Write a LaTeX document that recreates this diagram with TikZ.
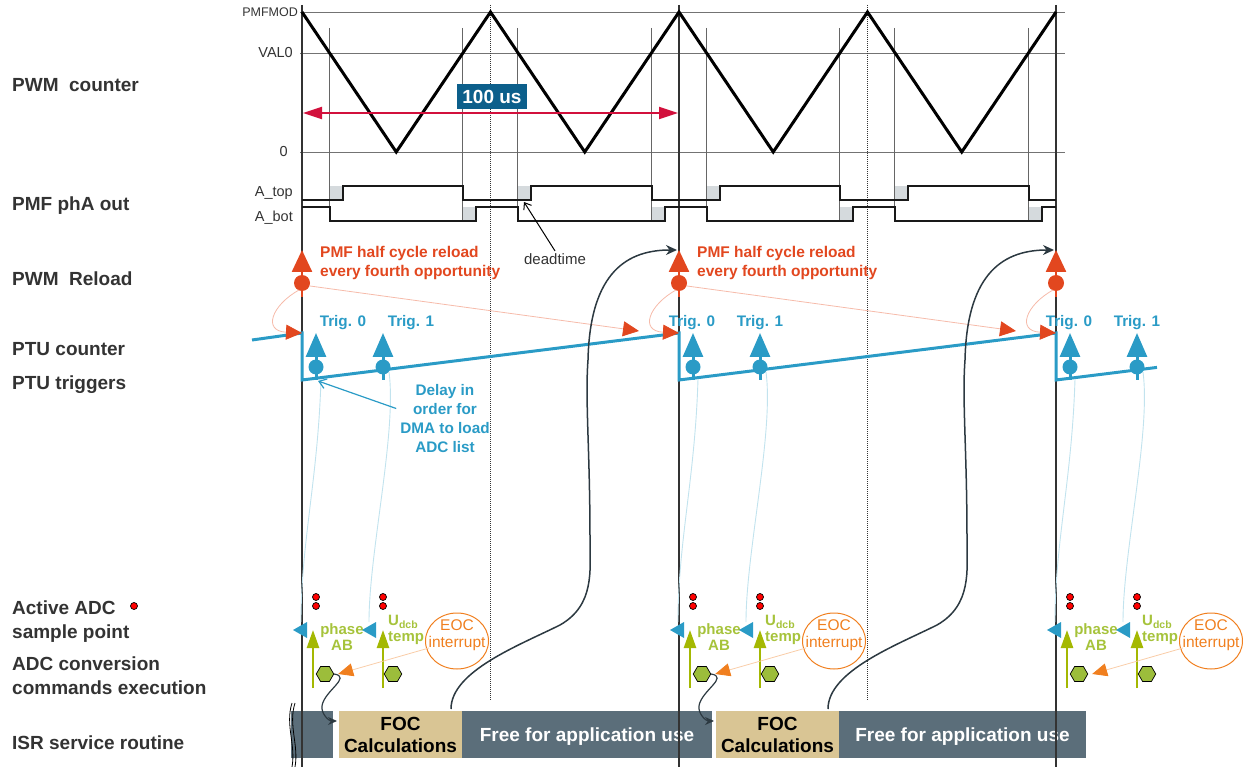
\documentclass[tikz,border=0pt]{standalone}
\usepackage{fontspec}
\setmainfont{Liberation Sans}
\usetikzlibrary{arrows.meta, shapes.geometric}

\definecolor{txtgray}{HTML}{333333}
\definecolor{relred}{HTML}{E2471F}
\definecolor{ptublue}{HTML}{2A9BC6}
\definecolor{usred}{HTML}{D2103C}
\definecolor{usblue}{HTML}{0C5F8B}
\definecolor{isrslate}{HTML}{5B6E7A}
\definecolor{foctan}{HTML}{D9C594}
\definecolor{adcgreen}{HTML}{A4B802}
\definecolor{phasegreen}{HTML}{A6C33B}
\definecolor{hexgreen}{HTML}{9CBD3B}
\definecolor{eocorange}{HTML}{F07F1F}
\definecolor{tracelight}{HTML}{C2E3EE}
\definecolor{loopink}{HTML}{F6BBAA}
\definecolor{eoclight}{HTML}{F9CDA8}
\definecolor{curvedark}{HTML}{2C3941}
\definecolor{dtgray}{HTML}{D5DADD}

\tikzset{
  rowlabel/.style={anchor=base west, inner sep=0pt, text=txtgray,
    font=\fontsize{19}{22}\selectfont\bfseries},
  levellabel/.style={anchor=base east, inner sep=0pt, text=txtgray,
    font=\fontsize{14.5}{17}\selectfont},
  gridline/.style={black!55, line width=0.8pt},
  dtline/.style={black!60, line width=0.7pt},
  dtbox/.style={fill=dtgray},
  counter/.style={black, line width=3pt},
  sigline/.style={black!90, line width=2pt},
  period/.style={black!80, line width=2pt},
  halfperiod/.style={black!80, line width=1pt, densely dotted},
  usarrow/.style={usred, line width=2pt,
    {Triangle[length=19pt,width=12pt]}-{Triangle[length=19pt,width=12pt]}},
  usbox/.style={fill=usblue, text=white, inner sep=0pt, minimum width=70pt,
    minimum height=25pt, font=\fontsize{19}{22}\selectfont\bfseries},
  deadlabel/.style={anchor=base, inner sep=3pt, text=txtgray,
    font=\fontsize{15}{18}\selectfont},
  deadarrow/.style={black, line width=1pt, -{Straight Barb[length=6pt,width=9pt]}},
  reloadmark/.style={relred, line width=2.5pt, -{Triangle[length=22pt,width=20pt]}},
  reloadnote/.style={anchor=west, align=left, inner sep=0pt, text=relred,
    font=\fontsize{15.5}{19}\selectfont\bfseries},
  reloadlink/.style={loopink, line width=0.8pt,
    -{Triangle[length=16pt,width=15pt,color=relred]}},
  ptuline/.style={ptublue, line width=3pt},
  trigmark/.style={ptublue, line width=3pt, -{Triangle[length=24pt,width=20pt]}},
  triglabel/.style={anchor=base, inner sep=0pt, text=ptublue,
    font=\fontsize{15.3}{18}\selectfont\bfseries},
  delaynote/.style={align=center, inner sep=0pt, text=ptublue,
    font=\fontsize{15.3}{18.7}\selectfont\bfseries},
  delayarrow/.style={ptublue, line width=1.2pt, -{Straight Barb[length=7pt,width=10pt]}},
  trace/.style={tracelight, line width=0.9pt},
  sampledot/.style={fill=red, draw=black, line width=0.7pt},
  convarrow/.style={adcgreen, line width=2.5pt, -{Triangle[length=18pt,width=12pt]}},
  adclabel/.style={align=center, inner sep=0pt, text=phasegreen,
    font=\fontsize{15}{16}\selectfont\bfseries},
  cmdhex/.style={regular polygon, regular polygon sides=6, minimum size=17.5pt,
    inner sep=0pt, fill=hexgreen, draw=black, line width=0.7pt},
  eoctext/.style={align=center, inner sep=0pt, text=eocorange,
    font=\fontsize{15.5}{17}\selectfont},
  eocring/.style={eocorange, line width=1pt},
  eoclink/.style={eoclight, line width=0.8pt,
    -{Triangle[length=15pt,width=13pt,color=eocorange]}},
  isrhop/.style={curvedark, line width=1.2pt, -{Stealth[length=9pt,width=8pt]}},
  isrcurve/.style={curvedark, line width=1.5pt, -{Stealth[length=11pt,width=10pt]}},
  focbox/.style={fill=foctan, text=black, align=center, inner sep=0pt,
    minimum width=123pt, minimum height=47pt, font=\fontsize{19}{22}\selectfont\bfseries},
  freebox/.style={fill=isrslate, text=white, inner sep=0pt, minimum height=47pt,
    text depth=0pt, font=\fontsize{19}{22}\selectfont\bfseries},
  breakline/.style={black, line width=0.8pt}
}

\begin{document}
\begin{tikzpicture}[x=1pt,y=-1pt]
\useasboundingbox (0,0) rectangle (1243,767);

% row names
\node[rowlabel] (lblcnt) at (12,92) {PWM\ \ counter};
\node[rowlabel] (lblout) at (12,211) {PMF phA out};
\node[rowlabel] (lblrel) at (12,286) {PWM\ \ Reload};
\node[rowlabel] (lblptu) at (12,356) {PTU counter};
\node[rowlabel] (lbltrg) at (12,390) {PTU triggers};
\node[rowlabel] (lbladc) at (12,614) {Active ADC};
\node[rowlabel] (lblsmp) at (12,638) {sample point};
\node[rowlabel] (lblcnv) at (12,670) {ADC conversion};
\node[rowlabel] (lblcmd) at (12,694) {commands execution};
\node[rowlabel] (lblisr) at (12,749) {ISR service routine};
\filldraw[sampledot] (134,606) circle (3.5);

% ISR time line
\fill[isrslate] (291,711) rectangle (333,758);
\draw[breakline] (292,703) .. controls (285,725) and (296,745) .. (292,767);
\draw[breakline] (295,703) .. controls (288,725) and (299,745) .. (295,767);
\node[focbox] (foc1) at (400.5,734.5) {FOC\\Calculations};
\node[freebox, minimum width=250pt] (free1) at (587,734.5) {Free for application use};
\node[focbox] (foc2) at (777.5,734.5) {FOC\\Calculations};
\node[freebox, minimum width=247pt] (free2) at (962.5,734.5) {Free for application use};

% counter levels
\draw[gridline] (300,12) -- (1065,12);
\draw[gridline] (300,53) -- (1065,53);
\draw[gridline] (300,152) -- (1065,152);
\node[levellabel, font=\fontsize{12.5}{15}\selectfont] (lvmod) at (298,16.5) {PMFMOD};
\node[levellabel] (lvval) at (293,58) {VAL0};
\node[levellabel] (lvzero) at (288,157) {0};

% dead time
\foreach \x in {329.5,517.5,706.5,894.5} \fill[dtbox] (\x,186) rectangle ++(13.5,14);
\foreach \x in {462.5,651.5,839.5,1028.5} \fill[dtbox] (\x,207) rectangle ++(13.5,14);
\foreach \x in {329.5,462.5,517.5,651.5,706.5,839.5,894.5,1028.5}
  \draw[dtline] (\x,28) -- (\x,221);

% periods
\foreach \x in {302,679,1056} \draw[period] (\x,5) -- (\x,767);
\foreach \x in {490.5,867.5} \draw[halfperiod] (\x,5) -- (\x,700);

\draw[counter] (302,12) -- (396.25,152) -- (490.5,12) -- (584.75,152) -- (679,12)
  -- (773.25,152) -- (867.5,12) -- (961.75,152) -- (1056,12);

\draw[sigline] (302,200) -- (343,200) -- (343,186) -- (462.5,186) -- (462.5,200)
  -- (531,200) -- (531,186) -- (651.5,186) -- (651.5,200)
  -- (720,200) -- (720,186) -- (839.5,186) -- (839.5,200)
  -- (908,200) -- (908,186) -- (1028.5,186) -- (1028.5,200) -- (1056,200);
\draw[sigline] (302,207) -- (329.5,207) -- (329.5,221) -- (476,221) -- (476,207)
  -- (517.5,207) -- (517.5,221) -- (665,221) -- (665,207) -- (706.5,207) -- (706.5,221)
  -- (853,221) -- (853,207) -- (894.5,207) -- (894.5,221)
  -- (1042,221) -- (1042,207) -- (1056,207);
\node[levellabel] (lvtop) at (293,197) {A\_top};
\node[levellabel] (lvbot) at (293,222) {A\_bot};

\coordinate (dtip) at (524,202);
\node[deadlabel] (dead) at (555,265) {deadtime};
\draw[deadarrow] (dead.north) -- (dtip);

\coordinate (usl) at (303,113);
\coordinate (usr) at (678,113);
\draw[usarrow] (usl) -- (usr);
\node[usbox] (us) at (492,97) {100 us};

% reload and PTU
\foreach \p/\n in {0/1,377/2,754/3}{
  \begin{scope}[xshift=\p]
    \coordinate (ptutop\n) at (302,333);
    \coordinate (ptulow\n) at (302,380);
    \coordinate (reltip\n) at (302,250);
    \coordinate (rel\n) at (302,283);
    \coordinate (isrin\n) at (337,721);
    \coordinate (isrout\n) at (451,709);
  \end{scope}
}
\draw[ptuline] (252,340) -- (ptutop1) -- (ptulow1) -- (ptutop2) -- (ptulow2)
  -- (ptutop3) -- (ptulow3) -- (1157,367.4);

\foreach \p/\n in {0/1,377/2,754/3}{
  \begin{scope}[xshift=\p]
    \draw[reloadmark] (302,297) -- (reltip\n);
    \fill[relred] (rel\n) circle (8);
    \draw[reloadlink] ([shift={(-3,7)}]rel\n) .. controls (272,305) and (262,331) .. (ptutop\n);
    \foreach \x/\c in {316/0,383/1}{
      \draw[trigmark] (\x,380) -- (\x,333);
      \fill[ptublue] (\x,367) coordinate (trg\c\n) circle (7.5);
    }
    % ADC
    \coordinate (adc0\n) at (293,630);
    \coordinate (adc1\n) at (362,630);
    \draw[trace] ([shift={(5,12)}]trg0\n) .. controls +(-3,100) and +(0,-80) .. ([shift={(8,-8)}]adc0\n);
    \draw[trace] ([shift={(6,5)}]trg1\n) .. controls +(8,60) and +(0,-70) .. ([shift={(7,-8)}]adc1\n);
    \filldraw[sampledot] (316,597) circle (3.5) (316,606) circle (3.5)
      (383,597) circle (3.5) (383,606) circle (3.5);
    \node[adclabel] (ph\n) at (342,637.5) {phase\\AB};
    \node[adclabel, anchor=west, align=left] (ud\n) at (388,630) {U\textsubscript{dcb}\\temp};
    \fill[ptublue] (adc0\n) -- ++(14,-8) -- ++(0,16) -- cycle;
    \fill[ptublue] (adc1\n) -- ++(14,-8) -- ++(0,16) -- cycle;
    \draw[convarrow] (313,688) -- (313,630);
    \draw[convarrow] (383,688) -- (383,630);
    \node[cmdhex] (hx0\n) at (325,674) {};
    \node[cmdhex] (hx1\n) at (393,674) {};
    \coordinate (eocc\n) at (457,641);
    \node[eoctext] (eoc\n) at (457,635.5) {EOC\\interrupt};
    \draw[eocring] (eocc\n) ellipse [x radius=31.5, y radius=28];
    \draw[eoclink] ([shift={(-28,7)}]eocc\n) -- ([xshift=4]hx0\n.east);
  \end{scope}
}
\foreach \a/\b in {1/2,2/3}
  \draw[reloadlink] ([shift={(8,3)}]rel\a) -- ([shift={(-40,-2)}]ptutop\b);

\node[reloadnote] (note1) at (320,262.5) {PMF half cycle reload\\every fourth opportunity};
\node[reloadnote] (note2) at (697,262.5) {PMF half cycle reload\\every fourth opportunity};

\foreach \x/\n in {343/1,692/2,1069/3}{
  \node[triglabel] (tl0\n) at (\x,327) {Trig. 0};
  \node[triglabel] (tl1\n) at (\x+68,327) {Trig. 1};
}

\node[delaynote] (delay) at (445,418.5) {Delay in\\order for\\DMA to load\\ADC list};
\coordinate (delaytip) at (318,381);
\draw[delayarrow] ([shift={(-4,-10)}]delay.west) -- (delaytip);

% ISR links
\foreach \p/\n in {0/1,377/2}{
  \begin{scope}[xshift=\p]
    \draw[isrhop] (hx0\n.east) .. controls +(18,3) and +(2,-15) .. (322,706)
      .. controls +(-1,8) and +(-8,0) .. (isrin\n);
  \end{scope}
}
\foreach \p/\n/\m in {0/1/2,377/2/3}{
  \begin{scope}[xshift=\p]
    \draw[isrcurve] (isrout\n) .. controls +(0,-38) and +(-40,20) .. (560,625)
      .. controls +(35,-20) and +(0,30) .. (590,540)
      .. controls +(0,-90) and +(-3,40) .. (588,360)
      .. controls +(2,-90) and +(-48,0) .. ([xshift=-2]reltip\m);
  \end{scope}
}
\end{tikzpicture}
\end{document}
